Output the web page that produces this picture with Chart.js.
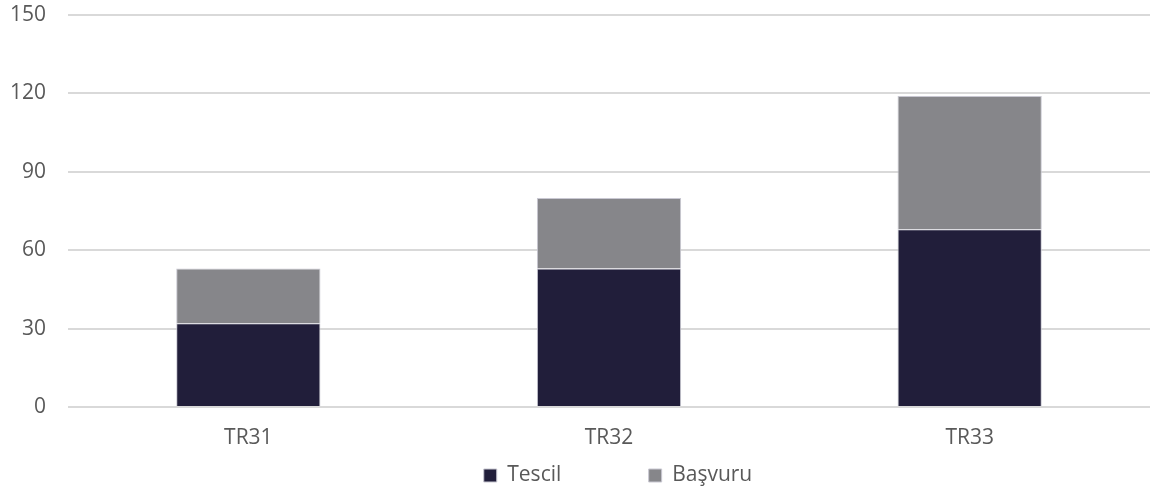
<!DOCTYPE html>
<html>
<head>
<meta charset="utf-8">
<script src="https://cdn.jsdelivr.net/npm/chart.js@4"></script>
<style>
  html, body { margin: 0; padding: 0; background: #fff; }
  #wrap { width: 1152px; height: 492px; }
</style>
</head>
<body>
<div id="wrap"><canvas id="myChart" width="1152" height="492"></canvas></div>
<script>
// data
var regions = ["TR31", "TR32", "TR33"];
var tescil = [32, 53, 68];
var basvuru = [21, 27, 51];
var yTicks = [0, 30, 60, 90, 120, 150];

var textFont = { family: "'Open Sans'", size: 21 };

// put the legend under the plot area where the original has it
var legendPlace = {
    id: 'legendPlace',
    afterLayout: function (chart) {
        var lg = chart.legend, ca = chart.chartArea;
        if (!lg) return;
        var d = (ca.left + ca.right) / 2 - (lg.left + lg.right) / 2 + 9;
        lg.left += d;
        lg.right += d;
        lg.top += 4;
        lg.bottom += 4;
    }
};

var ctx = document.getElementById('myChart').getContext('2d');
var chart = new Chart(ctx, {
    type: 'bar',
    data: {
        labels: regions,
        datasets: [{
            label: "Tescil",
            backgroundColor: '#211e3a',
            borderColor: '#c9c8d2',
            borderWidth: 1,
            data: tescil
        }, {
            label: "Başvuru",
            backgroundColor: '#86868a',
            borderColor: '#c9c8d2',
            borderWidth: 1,
            data: basvuru
        }]
    },
    options: {
        responsive: false,
        animation: false,
        layout: { padding: { top: 0, right: 2, left: 12, bottom: 0 } },
        datasets: { bar: { categoryPercentage: 1, barPercentage: 0.4 } },
        scales: {
            x: {
                stacked: true,
                grid: { display: false, drawTicks: false },
                border: { display: false },
                ticks: { color: '#595959', font: textFont, padding: 18 },
                afterFit: function (axis) { axis.height = 43; }
            },
            y: {
                stacked: true,
                min: 0,
                max: 150,
                afterBuildTicks: function (axis) {
                    axis.ticks = yTicks.map(function (v) { return { value: v }; });
                },
                grid: { color: '#d9d9d9', lineWidth: 2, drawTicks: false },
                border: { display: false },
                ticks: { color: '#595959', font: textFont, padding: 22 },
                afterFit: function (axis) {
                    axis.width = 56;
                    axis.paddingTop = 15;
                    axis.paddingBottom = 13;
                }
            }
        },
        plugins: {
            legend: {
                position: 'bottom',
                labels: {
                    color: '#595959',
                    font: textFont,
                    boxWidth: 13,
                    boxHeight: 13,
                    padding: 11,
                    // wide gap between the two entries
                    generateLabels: function (c) {
                        var items = Chart.defaults.plugins.legend.labels.generateLabels(c);
                        items[0].text += '              ';
                        return items;
                    }
                }
            },
            tooltip: { enabled: false }
        }
    },
    plugins: [legendPlace]
});
</script>
</body>
</html>
